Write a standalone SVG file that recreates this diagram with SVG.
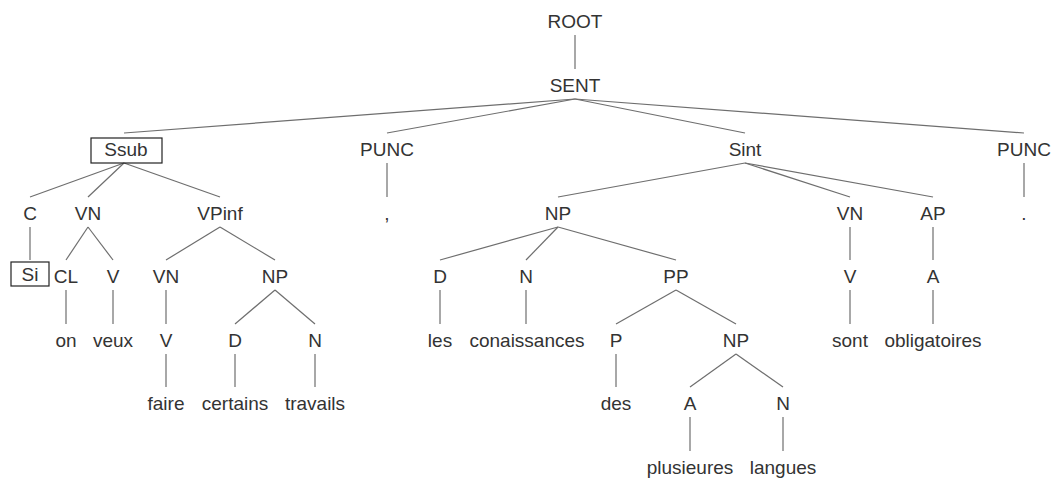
<svg xmlns="http://www.w3.org/2000/svg" width="1051" height="478" viewBox="0 0 1051 478">
<style>
text{font-family:"Liberation Sans",Arial,sans-serif;font-size:19px;fill:#333;text-anchor:middle}
.c line{stroke:#6e6e6e;stroke-width:1.2}
.box{fill:none;stroke:#222;stroke-width:1.2}
</style>
<rect width="1051" height="478" fill="#fff"/>
<g class="c" id="connectors">
<line x1="575" y1="35" x2="575" y2="69"/>
<line x1="575" y1="99" x2="124" y2="133"/>
<line x1="575" y1="99" x2="387" y2="133"/>
<line x1="575" y1="99" x2="745" y2="133"/>
<line x1="575" y1="99" x2="1024" y2="133"/>
<line x1="124" y1="163" x2="30" y2="197"/>
<line x1="124" y1="163" x2="88" y2="197"/>
<line x1="124" y1="163" x2="220" y2="197"/>
<line x1="387" y1="163" x2="387" y2="197"/>
<line x1="745" y1="163" x2="558" y2="197"/>
<line x1="745" y1="163" x2="850" y2="197"/>
<line x1="745" y1="163" x2="933" y2="197"/>
<line x1="1024" y1="163" x2="1024" y2="197"/>
<line x1="30" y1="227" x2="30" y2="260"/>
<line x1="88" y1="227" x2="66" y2="260"/>
<line x1="88" y1="227" x2="113" y2="260"/>
<line x1="220" y1="227" x2="166" y2="260"/>
<line x1="220" y1="227" x2="275" y2="260"/>
<line x1="558" y1="227" x2="440" y2="260"/>
<line x1="558" y1="227" x2="526" y2="260"/>
<line x1="558" y1="227" x2="676" y2="260"/>
<line x1="850" y1="227" x2="850" y2="260"/>
<line x1="933" y1="227" x2="933" y2="260"/>
<line x1="66" y1="290" x2="66" y2="324"/>
<line x1="113" y1="290" x2="113" y2="324"/>
<line x1="166" y1="290" x2="166" y2="324"/>
<line x1="275" y1="290" x2="235" y2="324"/>
<line x1="275" y1="290" x2="315" y2="324"/>
<line x1="440" y1="290" x2="440" y2="324"/>
<line x1="526" y1="290" x2="526" y2="324"/>
<line x1="676" y1="290" x2="616" y2="324"/>
<line x1="676" y1="290" x2="736" y2="324"/>
<line x1="850" y1="290" x2="850" y2="324"/>
<line x1="933" y1="290" x2="933" y2="324"/>
<line x1="166" y1="354" x2="166" y2="387"/>
<line x1="235" y1="354" x2="235" y2="387"/>
<line x1="315" y1="354" x2="315" y2="387"/>
<line x1="616" y1="354" x2="616" y2="387"/>
<line x1="736" y1="354" x2="690" y2="387"/>
<line x1="736" y1="354" x2="783" y2="387"/>
<line x1="690" y1="417" x2="690" y2="451"/>
<line x1="783" y1="417" x2="783" y2="451"/>
</g>
<g id="n-root"><text x="575" y="28">ROOT</text></g>
<g id="n-sent"><text x="575" y="92">SENT</text></g>
<g id="n-ssub"><rect class="box" x="91" y="138" width="71" height="25"/><text x="126" y="156">Ssub</text></g>
<g id="n-punc1"><text x="387" y="156">PUNC</text></g>
<g id="n-sint"><text x="745" y="156">Sint</text></g>
<g id="n-punc2"><text x="1024" y="156">PUNC</text></g>
<g id="n-c"><text x="30" y="220">C</text></g>
<g id="n-vn1"><text x="88" y="220">VN</text></g>
<g id="n-vpinf"><text x="220" y="220">VPinf</text></g>
<g id="n-comma"><text x="387" y="220">,</text></g>
<g id="n-np1"><text x="558" y="220">NP</text></g>
<g id="n-vn3"><text x="850" y="220">VN</text></g>
<g id="n-ap"><text x="933" y="220">AP</text></g>
<g id="n-period"><text x="1024" y="220">.</text></g>
<g id="n-si"><rect class="box" x="11" y="262" width="38" height="24"/><text x="30" y="281">Si</text></g>
<g id="n-cl"><text x="66" y="283">CL</text></g>
<g id="n-v1"><text x="113" y="283">V</text></g>
<g id="n-vn2"><text x="166" y="283">VN</text></g>
<g id="n-np2"><text x="275" y="283">NP</text></g>
<g id="n-d2"><text x="440" y="283">D</text></g>
<g id="n-n2"><text x="526" y="283">N</text></g>
<g id="n-pp"><text x="676" y="283">PP</text></g>
<g id="n-v3"><text x="850" y="283">V</text></g>
<g id="n-a1"><text x="933" y="283">A</text></g>
<g id="n-on"><text x="66" y="347">on</text></g>
<g id="n-veux"><text x="113" y="347">veux</text></g>
<g id="n-v2"><text x="166" y="347">V</text></g>
<g id="n-d1"><text x="235" y="347">D</text></g>
<g id="n-n1"><text x="315" y="347">N</text></g>
<g id="n-les"><text x="440" y="347">les</text></g>
<g id="n-conaissances"><text x="527" y="347">conaissances</text></g>
<g id="n-p"><text x="616" y="347">P</text></g>
<g id="n-np3"><text x="736" y="347">NP</text></g>
<g id="n-sont"><text x="850" y="347">sont</text></g>
<g id="n-obligatoires"><text x="933" y="347">obligatoires</text></g>
<g id="n-faire"><text x="166" y="410">faire</text></g>
<g id="n-certains"><text x="235" y="410">certains</text></g>
<g id="n-travails"><text x="315" y="410">travails</text></g>
<g id="n-des"><text x="616" y="410">des</text></g>
<g id="n-a2"><text x="690" y="410">A</text></g>
<g id="n-n3"><text x="783" y="410">N</text></g>
<g id="n-plusieures"><text x="690" y="474">plusieures</text></g>
<g id="n-langues"><text x="783" y="474">langues</text></g>
</svg>
